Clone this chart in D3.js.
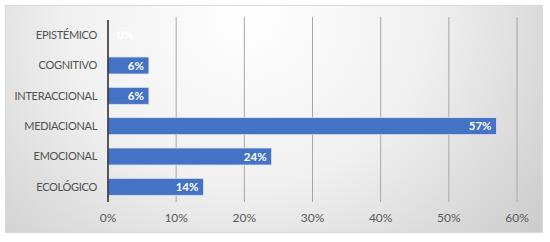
<!DOCTYPE html>
<html>
<head>
<meta charset="utf-8">
<style type="text/css">
    body { margin: 0; background: #fff; }
    svg { display: block; font-family: Lato, "Open Sans", sans-serif; }
</style>
</head>
<body>
<svg width="550" height="242"></svg>
<script type="text/javascript" src="https://cdn.jsdelivr.net/npm/d3@7/dist/d3.min.js"></script>
<script type="text/javascript">

    // datos del grafico
    let categorias = [`EPISTÉMICO`, `COGNITIVO`, `INTERACCIONAL`, `MEDIACIONAL`, `EMOCIONAL`, `ECOLÓGICO`];
    let valores = [0, 6, 6, 57, 24, 14];
    let ticks = [0, 10, 20, 30, 40, 50, 60];

    var svg = d3.select("svg");

    // fondo con degradado
    var defs = svg.append("defs");
    var grad = defs.append("radialGradient")
        .attr("id", "fondo")
        .attr("cx", "0.45").attr("cy", "0.05")
        .attr("r", "0.75")
        .attr("gradientTransform", "translate(0.45,0.05) scale(1,2.2) translate(-0.45,-0.05)");
    grad.append("stop").attr("offset", "0%").attr("stop-color", "#ffffff");
    grad.append("stop").attr("offset", "45%").attr("stop-color", "#f0f0f0");
    grad.append("stop").attr("offset", "100%").attr("stop-color", "#c6c6c6");

    svg.append("rect")
        .attr("x", 5.5).attr("y", 5.5)
        .attr("width", 537).attr("height", 227)
        .attr("fill", "url(#fondo)")
        .attr("stroke", "#d9d9d9");

    var x = d3.scaleLinear().domain([0, 60]).range([108, 517]);
    var y = d3.scaleBand().domain(categorias).range([20, 202]).paddingInner(0.44).paddingOuter(0.22);

    // lineas de cuadricula
    svg.selectAll("line.grid")
        .data(ticks.slice(1))
        .enter()
        .append("line")
        .attr("class", "grid")
        .attr("x1", d => x(d)).attr("x2", d => x(d))
        .attr("y1", 17).attr("y2", 202)
        .attr("stroke", "#a6a6a6")
        .attr("stroke-width", 1);

    // barras
    svg.selectAll("rect.bar")
        .data(valores)
        .enter()
        .append("rect")
        .attr("class", "bar")
        .attr("x", x(0))
        .attr("y", (d, i) => y(categorias[i]))
        .attr("width", d => x(d) - x(0))
        .attr("height", y.bandwidth())
        .attr("fill", "#4472c4")
        .attr("stroke", "#dbe3f1")
        .attr("stroke-width", 0.8);

    // eje vertical
    svg.append("line")
        .attr("x1", x(0)).attr("x2", x(0))
        .attr("y1", 20).attr("y2", 202)
        .attr("stroke", "#262626")
        .attr("stroke-width", 1.5);

    // etiquetas de categorias
    svg.selectAll("text.cat")
        .data(categorias)
        .enter()
        .append("text")
        .attr("class", "cat")
        .attr("x", 97)
        .attr("y", d => y(d) + y.bandwidth() / 2)
        .attr("dy", "0.35em")
        .attr("text-anchor", "end")
        .attr("font-size", 11)
        .attr("letter-spacing", -0.3)
        .attr("fill", "#505050")
        .text(d => d);

    // etiquetas de valores
    svg.selectAll("text.val")
        .data(valores)
        .enter()
        .append("text")
        .attr("class", "val")
        .attr("x", d => d == 0 ? x(0) + 9 : x(d) - 5)
        .attr("y", (d, i) => y(categorias[i]) + y.bandwidth() / 2)
        .attr("dy", "0.35em")
        .attr("text-anchor", d => d == 0 ? "start" : "end")
        .attr("font-size", 11.5)
        .attr("font-weight", "bold")
        .attr("fill", "#ffffff")
        .text(d => d + "%");

    // etiquetas del eje x
    svg.selectAll("text.tick")
        .data(ticks)
        .enter()
        .append("text")
        .attr("class", "tick")
        .attr("x", d => x(d))
        .attr("y", 218)
        .attr("dy", "0.35em")
        .attr("text-anchor", "middle")
        .attr("font-size", 12)
        .attr("fill", "#595959")
        .text(d => d + "%");

</script>
</body>
</html>
